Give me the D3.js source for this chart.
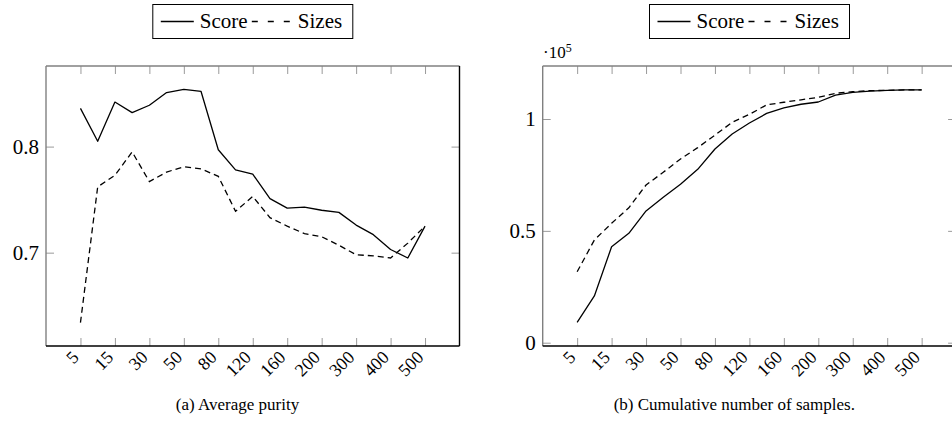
<!DOCTYPE html>
<html>
<head>
<meta charset="utf-8">
<script src="https://cdn.jsdelivr.net/npm/d3@7"></script>
<style>
  html, body { margin: 0; padding: 0; background: #fff; }
  svg { display: block; }
</style>
</head>
<body>
<svg id="chart" width="952" height="422"></svg>
<script>
// Number of samples per cluster (x categories); every other one is labelled.
const categories = ['5','10','15','20','30','40','50','60','80','100','120','140','160','180','200','250','300','350','400','450','500'];
const tickLabels = ['5','15','30','50','80','120','160','200','300','400','500'];

// (a) Average purity
const purityScore = [0.836, 0.805, 0.842, 0.832, 0.839, 0.851, 0.854, 0.852, 0.797, 0.778, 0.774,
                     0.751, 0.742, 0.743, 0.740, 0.738, 0.726, 0.717, 0.703, 0.695, 0.725];
const puritySizes = [0.634, 0.762, 0.773, 0.795, 0.767, 0.776, 0.781, 0.779, 0.772, 0.739, 0.753,
                     0.733, 0.725, 0.718, 0.715, 0.707, 0.698, 0.697, 0.695, 0.709, 0.725];
const purityTicks = [0.7, 0.8];

// (b) Cumulative number of samples
const samplesScore = [9100, 20900, 42900, 48900, 58900, 65000, 70800, 77500, 86600, 93300, 98200,
                      102500, 105000, 106600, 107600, 110700, 111900, 112500, 112800, 113000, 113000];
const samplesSizes = [31700, 45900, 53400, 60300, 70500, 76200, 82100, 87200, 92800, 98500, 102100,
                      106300, 107500, 108600, 109700, 111500, 112200, 112700, 112800, 113000, 113000];
const samplesTicks = [0, 50000, 100000];

const seriesNames = ['Score', 'Sizes'];

const SERIF = '"Liberation Serif"';
const svg = d3.select('#chart');

function txt(sel, size) {
  return sel.style('font-family', SERIF).style('font-size', size + 'px').attr('fill', '#000');
}

function drawPanel(opt) {
  const g = svg.append('g');
  const x = d3.scaleLinear().domain([-2, categories.length + 1]).range([opt.left, opt.right]);
  const y = d3.scaleLinear().domain(opt.yDomain).range([opt.bottom, opt.top]);
  const tickIdx = tickLabels.map(l => categories.indexOf(l));
  const tickLen = 8;

  // inward tick marks on all four sides
  const tickStyle = sel => sel.call(s => s.select('.domain').remove())
    .call(s => s.selectAll('.tick line').attr('stroke', '#9a9a9a').attr('stroke-width', 1));

  g.append('g').attr('transform', `translate(0,${opt.bottom})`)
    .call(d3.axisBottom(x).tickValues(tickIdx).tickSizeInner(-tickLen).tickSizeOuter(0).tickFormat(''))
    .call(tickStyle);
  g.append('g').attr('transform', `translate(0,${opt.top})`)
    .call(d3.axisTop(x).tickValues(tickIdx).tickSizeInner(-tickLen).tickSizeOuter(0).tickFormat(''))
    .call(tickStyle);
  g.append('g').attr('transform', `translate(${opt.left},0)`)
    .call(d3.axisLeft(y).tickValues(opt.yTicks).tickSizeInner(-tickLen).tickSizeOuter(0).tickFormat(''))
    .call(tickStyle);
  g.append('g').attr('transform', `translate(${opt.right},0)`)
    .call(d3.axisRight(y).tickValues(opt.yTicks).tickSizeInner(-tickLen).tickSizeOuter(0).tickFormat(''))
    .call(tickStyle);

  // frame
  g.append('line').attr('x1', opt.left).attr('x2', opt.right).attr('y1', opt.top).attr('y2', opt.top)
    .attr('stroke', '#808080').attr('stroke-width', 1.4);
  g.append('line').attr('x1', opt.left).attr('x2', opt.left).attr('y1', opt.top).attr('y2', opt.bottom)
    .attr('stroke', '#808080').attr('stroke-width', 1.4);
  g.append('line').attr('x1', opt.left).attr('x2', opt.right).attr('y1', opt.bottom).attr('y2', opt.bottom)
    .attr('stroke', '#000').attr('stroke-width', 1.4);
  g.append('line').attr('x1', opt.right).attr('x2', opt.right).attr('y1', opt.top).attr('y2', opt.bottom)
    .attr('stroke', '#000').attr('stroke-width', 1.4);

  // rotated x tick labels
  g.selectAll('text.xl').data(tickLabels).join('text')
    .attr('class', 'xl')
    .attr('transform', d => `translate(${x(categories.indexOf(d)) - 5},${opt.bottom + 8}) rotate(-45)`)
    .attr('text-anchor', 'end')
    .attr('dy', '0.35em')
    .call(txt, 18)
    .text(d => d);

  // y tick labels
  g.selectAll('text.yl').data(opt.yTicks).join('text')
    .attr('class', 'yl')
    .attr('x', opt.left - 7)
    .attr('y', d => y(d))
    .attr('dy', '0.34em')
    .attr('text-anchor', 'end')
    .call(txt, 21)
    .text(opt.yFormat);

  // series lines
  const line = d3.line().x((d, i) => x(i)).y(d => y(d));
  g.append('path').datum(opt.score).attr('d', line)
    .attr('fill', 'none').attr('stroke', '#000').attr('stroke-width', 1.3).attr('stroke-linejoin', 'round');
  g.append('path').datum(opt.sizes).attr('d', line)
    .attr('fill', 'none').attr('stroke', '#000').attr('stroke-width', 1.3)
    .attr('stroke-dasharray', '6,4');

  // legend above the plot
  const cx = opt.legendCx;
  const lg = g.append('g');
  lg.append('rect').attr('x', cx - 100).attr('y', 4.5).attr('width', 200).attr('height', 34)
    .attr('fill', '#fff').attr('stroke', '#000').attr('stroke-width', 1);
  lg.append('line').attr('x1', cx - 92).attr('x2', cx - 59).attr('y1', 21.5).attr('y2', 21.5)
    .attr('stroke', '#000').attr('stroke-width', 1.3);
  lg.append('text').attr('x', cx - 53).attr('y', 27.5).call(txt, 21).text(seriesNames[0]);
  lg.append('line').attr('x1', cx - 1).attr('x2', cx + 38).attr('y1', 21.5).attr('y2', 21.5)
    .attr('stroke', '#000').attr('stroke-width', 1.3).attr('stroke-dasharray', '6,10');
  lg.append('text').attr('x', cx + 45).attr('y', 27.5).call(txt, 21).text(seriesNames[1]);

  // caption
  g.append('text').attr('x', opt.captionCx).attr('y', 410).attr('text-anchor', 'middle')
    .call(txt, 17).text(opt.caption);

  return g;
}

drawPanel({
  left: 46, right: 459.5, top: 66, bottom: 346,
  yDomain: [0.612, 0.876], yTicks: purityTicks, yFormat: d3.format('.1f'),
  score: purityScore, sizes: puritySizes,
  legendCx: 252.8, captionCx: 237.5, caption: '(a) Average purity'
});

const right = drawPanel({
  left: 542.7, right: 956.1, top: 66, bottom: 346,
  yDomain: [-1480, 123700], yTicks: samplesTicks, yFormat: d => String(d / 1e5),
  score: samplesScore, sizes: samplesSizes,
  legendCx: 749.5, captionCx: 734.3, caption: '(b) Cumulative number of samples.'
});

// scale factor of the y axis
const mult = right.append('text').attr('x', 543).attr('y', 57.5).call(txt, 17);
mult.append('tspan').text('·10');
mult.append('tspan').attr('dy', -6).style('font-size', '12px').text('5');
</script>
</body>
</html>
